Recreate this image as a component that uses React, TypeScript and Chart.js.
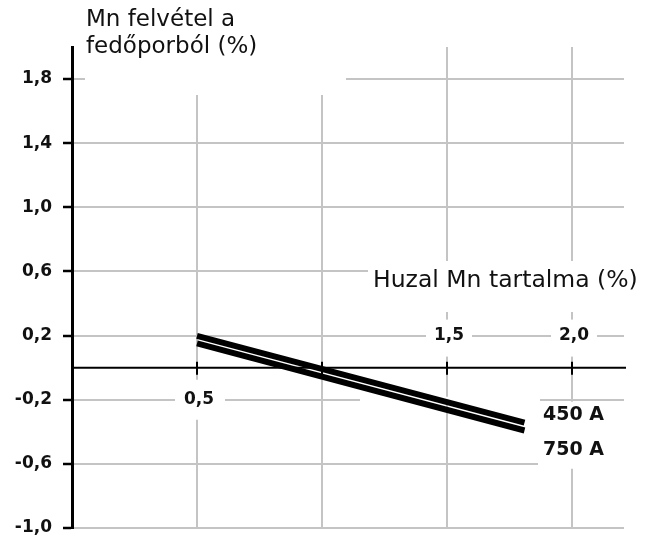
import React, { useEffect, useRef } from 'react';
import { Chart, registerables } from 'chart.js';

Chart.register(...registerables);

// ---- data ----
const yTickValues = [-1.0, -0.6, -0.2, 0.2, 0.6, 1.0, 1.4, 1.8];
const xGridValues = [0.5, 1.0, 1.5, 2.0];
const xLabelValues = [0.5, 1.5, 2.0];
const seriesNames = ['450 A', '750 A'];
const series450X = [0.5, 1.81];
const series450Y = [0.198, -0.343];
const series750X = [0.5, 1.81];
const series750Y = [0.152, -0.392];
const yTitleLines = ['Mn felvétel a', 'fedőporból (%)'];
const xTitle = 'Huzal Mn tartalma (%)';

const fmt = (v: number) => v.toFixed(1).replace('.', ',');
const FONT = '"DejaVu Sans", sans-serif';
const GRID = '#c4c4c4';
const INK = '#111';

const decorPlugin = {
  id: 'decor',
  beforeDatasetsDraw(chart: any) {
    const { ctx, scales } = chart;
    const x = scales.x;
    const y = scales.y;
    ctx.save();
    ctx.fillStyle = '#fff';
    // y title mask
    ctx.fillRect(85, 0, 261, 95);
    // x title mask
    ctx.fillRect(368, 261, 287, 51);
    // x tick label masks
    const x05 = x.getPixelForValue(xLabelValues[0]);
    const ym02 = y.getPixelForValue(-0.2);
    ctx.fillRect(x05 - 22, ym02 - 20, 50, 40);
    for (let i = 1; i < xLabelValues.length; i++) {
      const px = x.getPixelForValue(xLabelValues[i]);
      const py = y.getPixelForValue(0.2);
      ctx.fillRect(px - 21, py - 16, 46, 37);
    }
    // series label mask
    ctx.fillRect(538, ym02 + 2, 90, 67);
    ctx.fillRect(360, ym02 - 3, 180, 6);
    // zero axis line
    const y0 = y.getPixelForValue(0);
    ctx.strokeStyle = '#000';
    ctx.lineWidth = 2;
    ctx.beginPath();
    ctx.moveTo(x.left, y0);
    ctx.lineTo(x.right + 2, y0);
    ctx.stroke();
    for (const v of xGridValues) {
      const px = x.getPixelForValue(v);
      ctx.beginPath();
      ctx.moveTo(px, y0 - 6);
      ctx.lineTo(px, y0 + 7);
      ctx.stroke();
    }
    ctx.restore();
  },
  afterDraw(chart: any) {
    const { ctx, scales } = chart;
    const x = scales.x;
    const y = scales.y;
    ctx.save();
    ctx.fillStyle = INK;
    ctx.textAlign = 'left';
    ctx.textBaseline = 'alphabetic';
    ctx.font = `23px ${FONT}`;
    ctx.fillText(yTitleLines[0], 86, 26);
    ctx.fillText(yTitleLines[1], 86, 53);
    ctx.font = `23.5px ${FONT}`;
    ctx.fillText(xTitle, 373, 287);

    ctx.font = `bold 17px ${FONT}`;
    ctx.textAlign = 'center';
    ctx.textBaseline = 'middle';
    ctx.fillText(fmt(xLabelValues[0]), x.getPixelForValue(xLabelValues[0]) + 2, y.getPixelForValue(-0.2));
    for (let i = 1; i < xLabelValues.length; i++) {
      ctx.fillText(fmt(xLabelValues[i]), x.getPixelForValue(xLabelValues[i]) + 2, y.getPixelForValue(0.2));
    }
    ctx.font = `bold 19px ${FONT}`;
    ctx.textAlign = 'left';
    ctx.fillText(seriesNames[0], 543, 415);
    ctx.fillText(seriesNames[1], 543, 450);
    ctx.restore();
  },
};

export default function App() {
  const ref = useRef<HTMLCanvasElement | null>(null);
  useEffect(() => {
    if (!ref.current) return;
    const chart = new Chart(ref.current, {
      type: 'line',
      data: {
        datasets: [
          {
            label: seriesNames[0],
            data: series450X.map((v, i) => ({ x: v, y: series450Y[i] })),
            borderColor: '#000',
            borderWidth: 6,
            pointRadius: 0,
            tension: 0,
          },
          {
            label: seriesNames[1],
            data: series750X.map((v, i) => ({ x: v, y: series750Y[i] })),
            borderColor: '#000',
            borderWidth: 6,
            pointRadius: 0,
            tension: 0,
          },
        ],
      },
      options: {
        responsive: false,
        animation: false,
        layout: { padding: { top: 47, right: 31, bottom: 10, left: 0 } },
        plugins: { legend: { display: false }, tooltip: { enabled: false } },
        scales: {
          x: {
            type: 'linear',
            min: 0,
            max: 2.208,
            afterBuildTicks: (s: any) => {
              s.ticks = xGridValues.map((v) => ({ value: v }));
            },
            afterFit: (s: any) => {
              s.height = 0;
              s.paddingLeft = 0;
              s.paddingRight = 0;
            },
            ticks: { display: false },
            grid: { color: GRID, lineWidth: 2, drawTicks: false },
            border: { display: false },
          },
          y: {
            type: 'linear',
            min: -1.0,
            max: 2.0,
            afterBuildTicks: (s: any) => {
              s.ticks = yTickValues.map((v) => ({ value: v }));
            },
            afterFit: (s: any) => {
              s.width = 72;
              s.paddingTop = 0;
              s.paddingBottom = 0;
            },
            ticks: {
              color: INK,
              padding: 11,
              font: { family: FONT, size: 17, weight: 'bold' },
              callback: (v: any) => fmt(Number(v)),
            },
            grid: { color: GRID, lineWidth: 2, tickColor: '#000', tickLength: 9, tickWidth: 2.5 },
            border: { color: '#000', width: 3 },
          },
        },
      },
      plugins: [decorPlugin],
    } as any);
    return () => chart.destroy();
  }, []);
  return (
    <div style={{ position: 'absolute', left: 0, top: 0, width: 655, height: 538, background: '#fff' }}>
      <canvas ref={ref} width={655} height={538} />
    </div>
  );
}
